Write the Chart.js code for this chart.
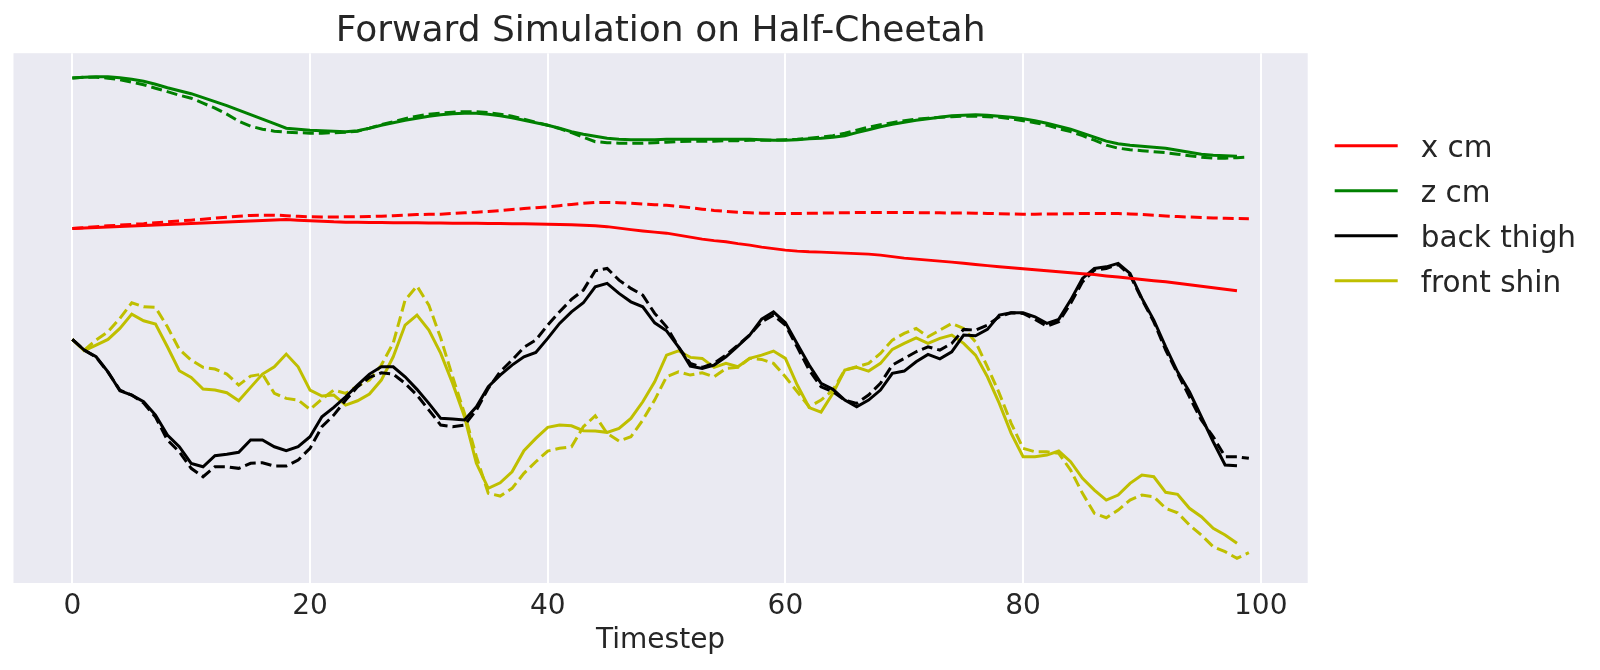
<!DOCTYPE html>
<html>
<head>
<meta charset="utf-8">
<script src="https://cdn.jsdelivr.net/npm/chart.js@4.4.1/dist/chart.umd.min.js"></script>
<style>
  body { margin: 0; background: #fff; }
  #wrap { width: 1600px; height: 670px; }
</style>
</head>
<body>
<div id="wrap"><canvas id="simChart" width="1600" height="670"></canvas></div>
<script>
// x ticks shown on the timestep axis
const xTicks = [0, 20, 40, 60, 80, 100];

// solid = reference rollout, dashed = simulated rollout (one value per timestep)
const xcmRef = [0.897,0.902,0.907,0.912,0.917,0.922,0.927,0.932,0.937,0.942,0.947,0.952,0.957,0.962,0.967,0.972,0.977,0.982,0.987,0.98,
  0.975,0.97,0.963,0.96,0.958,0.957,0.956,0.955,0.954,0.953,0.952,0.951,0.95,0.949,0.948,0.947,0.946,0.945,0.943,0.942,
  0.94,0.937,0.933,0.928,0.923,0.915,0.90,0.885,0.872,0.86,0.85,0.83,0.81,0.79,0.775,0.763,0.745,0.73,0.71,0.695,
  0.68,0.67,0.663,0.66,0.655,0.65,0.645,0.64,0.63,0.615,0.60,0.59,0.58,0.57,0.56,0.548,0.536,0.525,0.513,0.503,
  0.493,0.483,0.473,0.463,0.453,0.443,0.435,0.422,0.41,0.398,0.386,0.374,0.363,0.348,0.333,0.318,0.303,0.288,0.273];
const xcmSim = [0.897,0.905,0.915,0.923,0.93,0.938,0.945,0.955,0.963,0.972,0.98,0.99,1.00,1.01,1.02,1.027,1.03,1.03,1.025,1.018,
  1.013,1.012,1.012,1.013,1.014,1.016,1.02,1.024,1.03,1.036,1.038,1.04,1.047,1.054,1.06,1.066,1.076,1.086,1.096,1.105,
  1.113,1.125,1.137,1.148,1.156,1.157,1.155,1.15,1.142,1.135,1.128,1.117,1.105,1.09,1.077,1.068,1.06,1.054,1.05,1.047,
  1.046,1.047,1.048,1.05,1.052,1.054,1.056,1.057,1.057,1.057,1.056,1.055,1.054,1.053,1.052,1.052,1.05,1.047,1.044,1.042,
  1.04,1.04,1.041,1.042,1.044,1.046,1.047,1.047,1.046,1.042,1.036,1.03,1.022,1.016,1.011,1.007,1.002,0.999,0.997,0.995];

const zcmRef = [2.403,2.41,2.415,2.415,2.405,2.39,2.37,2.34,2.305,2.275,2.245,2.205,2.165,2.125,2.08,2.035,1.99,1.945,1.90,1.89,
  1.88,1.875,1.87,1.865,1.875,1.90,1.93,1.955,1.98,2.00,2.02,2.035,2.045,2.05,2.05,2.04,2.025,2.005,1.98,1.955,
  1.93,1.90,1.865,1.84,1.82,1.80,1.79,1.785,1.785,1.785,1.79,1.79,1.79,1.79,1.79,1.79,1.79,1.79,1.785,1.78,
  1.78,1.785,1.795,1.80,1.81,1.825,1.855,1.885,1.915,1.94,1.96,1.98,1.995,2.01,2.025,2.03,2.035,2.03,2.02,2.01,
  1.995,1.975,1.95,1.92,1.89,1.85,1.81,1.77,1.745,1.73,1.72,1.71,1.70,1.68,1.66,1.64,1.63,1.625,1.62];
const zcmSim = [2.403,2.41,2.41,2.40,2.385,2.36,2.335,2.30,2.265,2.23,2.20,2.15,2.10,2.04,1.97,1.92,1.89,1.87,1.86,1.855,
  1.85,1.85,1.855,1.86,1.87,1.90,1.935,1.965,1.995,2.02,2.04,2.05,2.06,2.065,2.065,2.055,2.04,2.02,1.99,1.96,
  1.93,1.895,1.855,1.81,1.765,1.755,1.75,1.75,1.75,1.755,1.76,1.765,1.77,1.77,1.77,1.775,1.775,1.78,1.78,1.78,
  1.785,1.79,1.80,1.81,1.825,1.85,1.88,1.91,1.935,1.955,1.975,1.99,2.00,2.01,2.015,2.02,2.02,2.015,2.01,1.995,
  1.975,1.955,1.93,1.895,1.865,1.825,1.78,1.73,1.70,1.685,1.675,1.665,1.655,1.64,1.625,1.61,1.60,1.60,1.605,1.61];

const thighRef = [-0.213,-0.32,-0.387,-0.537,-0.727,-0.77,-0.837,-0.97,-1.17,-1.287,-1.453,-1.487,-1.377,-1.363,-1.343,-1.22,-1.22,-1.287,-1.327,-1.287,
  -1.187,-0.987,-0.893,-0.787,-0.67,-0.56,-0.487,-0.487,-0.587,-0.713,-0.853,-1.003,-1.01,-1.02,-0.887,-0.687,-0.57,-0.47,-0.387,-0.343,
  -0.203,-0.053,0.063,0.153,0.313,0.347,0.247,0.163,0.113,-0.047,-0.127,-0.287,-0.48,-0.503,-0.47,-0.387,-0.28,-0.17,-0.01,0.063,
  -0.047,-0.26,-0.47,-0.653,-0.713,-0.82,-0.887,-0.82,-0.72,-0.553,-0.53,-0.437,-0.363,-0.407,-0.337,-0.17,-0.177,-0.113,0.03,0.053,
  0.053,0.013,-0.053,-0.013,0.18,0.397,0.497,0.513,0.547,0.447,0.197,-0.02,-0.287,-0.537,-0.737,-0.987,-1.237,-1.47,-1.477];
const thighSim = [-0.213,-0.32,-0.39,-0.54,-0.72,-0.77,-0.85,-0.99,-1.22,-1.337,-1.503,-1.587,-1.487,-1.487,-1.503,-1.453,-1.447,-1.48,-1.48,-1.42,
  -1.303,-1.087,-0.97,-0.82,-0.687,-0.593,-0.547,-0.56,-0.653,-0.77,-0.92,-1.07,-1.087,-1.07,-0.92,-0.703,-0.537,-0.42,-0.293,-0.22,
  -0.07,0.063,0.187,0.28,0.473,0.497,0.38,0.297,0.23,0.047,-0.087,-0.287,-0.453,-0.493,-0.453,-0.37,-0.27,-0.17,-0.037,0.03,
  -0.07,-0.29,-0.52,-0.687,-0.737,-0.82,-0.853,-0.77,-0.653,-0.47,-0.403,-0.337,-0.287,-0.32,-0.253,-0.113,-0.12,-0.07,0.013,0.053,
  0.047,-0.013,-0.08,-0.037,0.147,0.363,0.48,0.497,0.537,0.43,0.187,-0.037,-0.32,-0.553,-0.787,-1.02,-1.187,-1.387,-1.387,-1.403];

const shinRef = [-0.213,-0.327,-0.27,-0.213,-0.103,0.04,-0.027,-0.06,-0.287,-0.527,-0.593,-0.71,-0.72,-0.747,-0.827,-0.693,-0.56,-0.487,-0.36,-0.487,
  -0.72,-0.78,-0.77,-0.87,-0.827,-0.76,-0.62,-0.387,-0.07,0.03,-0.12,-0.353,-0.653,-0.987,-1.453,-1.703,-1.647,-1.537,-1.327,-1.203,
  -1.093,-1.07,-1.077,-1.127,-1.13,-1.143,-1.103,-1.003,-0.837,-0.637,-0.37,-0.327,-0.393,-0.403,-0.493,-0.453,-0.487,-0.403,-0.37,-0.33,
  -0.403,-0.67,-0.895,-0.94,-0.753,-0.52,-0.493,-0.53,-0.453,-0.313,-0.253,-0.197,-0.253,-0.203,-0.17,-0.253,-0.37,-0.587,-0.853,-1.153,
  -1.387,-1.387,-1.37,-1.33,-1.437,-1.603,-1.72,-1.82,-1.77,-1.653,-1.57,-1.587,-1.743,-1.763,-1.903,-1.987,-2.103,-2.17,-2.253];
const shinSim = [-0.213,-0.32,-0.22,-0.137,-0.003,0.153,0.113,0.107,-0.087,-0.313,-0.42,-0.493,-0.51,-0.56,-0.67,-0.58,-0.56,-0.753,-0.803,-0.82,
  -0.913,-0.81,-0.72,-0.753,-0.68,-0.62,-0.47,-0.25,0.18,0.32,0.13,-0.2,-0.587,-0.953,-1.387,-1.753,-1.78,-1.703,-1.553,-1.437,
  -1.33,-1.303,-1.287,-1.087,-0.977,-1.153,-1.23,-1.187,-1.02,-0.82,-0.587,-0.537,-0.57,-0.547,-0.587,-0.503,-0.493,-0.403,-0.413,-0.453,
  -0.587,-0.737,-0.887,-0.82,-0.72,-0.52,-0.487,-0.453,-0.353,-0.22,-0.153,-0.103,-0.187,-0.12,-0.053,-0.103,-0.237,-0.487,-0.753,-1.053,
  -1.303,-1.337,-1.337,-1.353,-1.52,-1.753,-1.953,-1.997,-1.92,-1.82,-1.77,-1.787,-1.903,-1.947,-2.07,-2.17,-2.287,-2.337,-2.403,-2.347];

const seriesNames = ['x cm', 'z cm', 'back thigh', 'front shin'];
const seriesColors = ['#ff0000', '#008000', '#000000', '#bfbf00'];

const FONT = "'DejaVu Sans', sans-serif";
const TEXT = '#262626';

function toPoints(arr) {
    return arr.map((v, i) => ({ x: i, y: v }));
}

function line(label, values, color, dashed) {
    return {
        label: label,
        data: toPoints(values),
        borderColor: color,
        borderWidth: 3,
        borderDash: dashed ? [11, 5] : [],
        pointRadius: 0,
        tension: 0,
        fill: false
    };
}

const datasets = [
    line('x cm', xcmRef, seriesColors[0], false),
    line('x cm sim', xcmSim, seriesColors[0], true),
    line('z cm', zcmRef, seriesColors[1], false),
    line('z cm sim', zcmSim, seriesColors[1], true),
    line('back thigh', thighRef, seriesColors[2], false),
    line('back thigh sim', thighSim, seriesColors[2], true),
    line('front shin', shinRef, seriesColors[3], false),
    line('front shin sim', shinSim, seriesColors[3], true)
];

// seaborn-like plot background
const plotBackground = {
    id: 'plotBackground',
    beforeDraw(chart) {
        const { ctx, chartArea: a } = chart;
        ctx.save();
        ctx.fillStyle = '#eaeaf2';
        ctx.fillRect(a.left, a.top, a.right - a.left, a.bottom - a.top);
        ctx.restore();
    }
};

// legend sits outside the axes on the right
const sideLegend = {
    id: 'sideLegend',
    afterDraw(chart) {
        const ctx = chart.ctx;
        const x0 = chart.chartArea.right + 27;
        const rowY = 145.7, rowGap = 45;
        ctx.save();
        ctx.font = '29.5px ' + FONT;
        ctx.textBaseline = 'alphabetic';
        ctx.textAlign = 'left';
        seriesNames.forEach((name, i) => {
            const y = rowY + i * rowGap;
            ctx.strokeStyle = seriesColors[i];
            ctx.lineWidth = 3;
            ctx.setLineDash([]);
            ctx.beginPath();
            ctx.moveTo(x0, y);
            ctx.lineTo(x0 + 63, y);
            ctx.stroke();
            ctx.fillStyle = TEXT;
            ctx.fillText(name, x0 + 86, y + 11);
        });
        ctx.restore();
    }
};

new Chart(document.getElementById('simChart'), {
    type: 'line',
    data: { datasets: datasets },
    options: {
        responsive: false,
        animation: false,
        layout: { padding: { left: 13.5, right: 292.3, top: 0, bottom: 0 } },
        plugins: {
            legend: { display: false },
            tooltip: { enabled: false },
            title: {
                display: true,
                text: 'Forward Simulation on Half-Cheetah',
                color: TEXT,
                font: { family: FONT, size: 36, weight: 'normal' },
                padding: { top: 10, bottom: 0 }
            }
        },
        scales: {
            x: {
                type: 'linear',
                min: -4.95,
                max: 103.95,
                afterBuildTicks: function(scale) {
                    scale.ticks = xTicks.map(v => ({ value: v }));
                },
                afterFit: function(scale) { scale.height = 87; },
                grid: { color: '#ffffff', lineWidth: 2, drawTicks: false },
                border: { display: false },
                ticks: {
                    padding: 7,
                    color: TEXT,
                    font: { family: FONT, size: 28 },
                    maxRotation: 0
                },
                title: {
                    display: true,
                    text: 'Timestep',
                    color: TEXT,
                    font: { family: FONT, size: 28 },
                    padding: { top: 0, bottom: 12 }
                }
            },
            y: {
                display: false,
                min: -2.65,
                max: 2.65
            }
        }
    },
    plugins: [plotBackground, sideLegend]
});
</script>
</body>
</html>
